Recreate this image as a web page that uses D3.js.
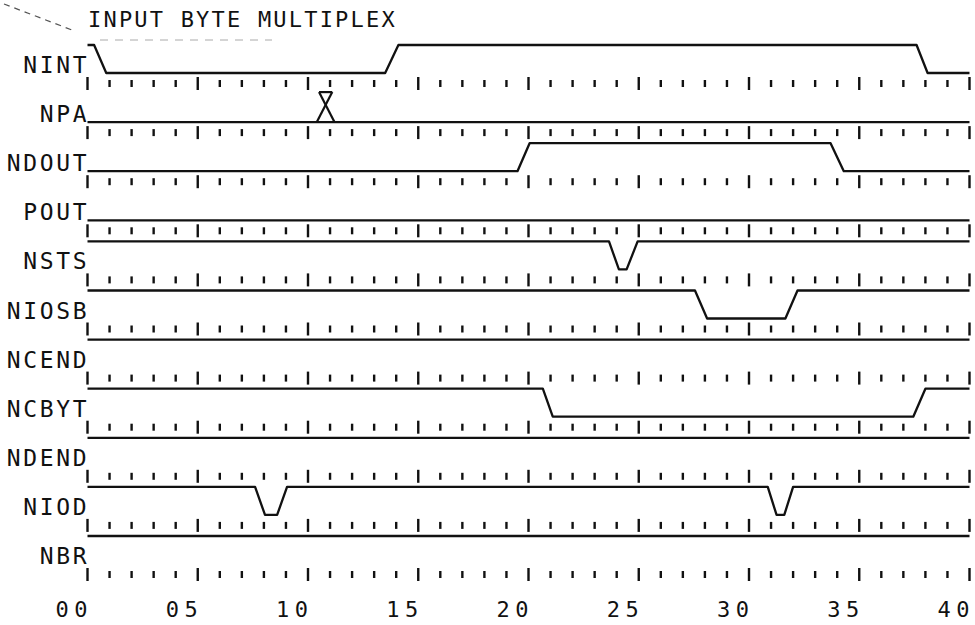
<!DOCTYPE html>
<html>
<head>
<meta charset="utf-8">
<script src="https://cdn.jsdelivr.net/npm/d3@7"></script>
<style>
  html, body { margin: 0; padding: 0; background: #fff; }
  svg { display: block; }
  text { font-family: "DejaVu Sans Mono", monospace; fill: #111; }
</style>
</head>
<body>
<svg id="chart" width="975" height="625"></svg>
<script>
// ---- data ----
const title = "INPUT BYTE MULTIPLEX";
const signals = ["NINT","NPA","NDOUT","POUT","NSTS","NIOSB","NCEND","NCBYT","NDEND","NIOD","NBR"];
// waveforms: [time, level] with level 1 = high, 0 = low
const wNINT  = [[0,1],[0.3,1],[0.85,0],[13.5,0],[14.1,1],[37.6,1],[38.1,0],[40,0]];
const wNPA   = [[0,0],[40,0]];
const wNDOUT = [[0,0],[19.5,0],[20.05,1],[33.7,1],[34.3,0],[40,0]];
const wPOUT  = [[0,0],[40,0]];
const wNSTS  = [[0,1],[23.65,1],[24.1,0],[24.45,0],[24.95,1],[40,1]];
const wNIOSB = [[0,1],[27.55,1],[28.1,0],[31.65,0],[32.2,1],[40,1]];
const wNCEND = [[0,1],[40,1]];
const wNCBYT = [[0,1],[20.65,1],[21.1,0],[37.45,0],[38.0,1],[40,1]];
const wNDEND = [[0,1],[40,1]];
const wNIOD  = [[0,1],[7.6,1],[8.05,0],[8.6,0],[9.05,1],[30.85,1],[31.25,0],[31.6,0],[32.0,1],[40,1]];
const wNBR   = [[0,1],[40,1]];
const waves = [wNINT,wNPA,wNDOUT,wPOUT,wNSTS,wNIOSB,wNCEND,wNCBYT,wNDEND,wNIOD,wNBR];
// marker (crossing) on NPA
const markerSignal = "NPA";
const markerTime = 10.8;
const tickTimes = d3.range(0, 41);
const labelTimes = [0,5,10,15,20,25,30,35,40];
const labelTexts = ["00","05","10","15","20","25","30","35","40"];

// ---- scales ----
const svg = d3.select("#chart");
const x = d3.scaleLinear().domain([0, 40]).range([87.5, 969.5]);
const yHigh = d3.scalePoint().domain(signals).range([45, 536]);
const amp = 28;
const yOf = (s, lvl) => yHigh(s) + (1 - lvl) * amp;

// ---- faint scan artifacts (top-left) ----
svg.append("line").attr("x1", 4).attr("y1", 4).attr("x2", 72).attr("y2", 30)
  .attr("stroke", "#555").attr("stroke-width", 1.2).attr("stroke-dasharray", "6,5");
svg.append("line").attr("x1", 100).attr("y1", 40).attr("x2", 272).attr("y2", 40)
  .attr("stroke", "#aaa").attr("stroke-width", 1).attr("stroke-dasharray", "8,7");

// ---- title ----
svg.append("text").attr("x", 88).attr("y", 27)
  .attr("font-size", 22).attr("letter-spacing", 2.2)
  .text(title);

// ---- rows ----
const line = d3.line();
const rows = svg.selectAll("g.row").data(signals).join("g").attr("class", "row");

rows.each(function(s, i) {
  const g = d3.select(this);
  const pts = waves[i].map(([t, v]) => [x(t), yOf(s, v)]);
  g.append("path").attr("d", line(pts))
    .attr("fill", "none").attr("stroke", "#111").attr("stroke-width", 2.3)
    .attr("stroke-linejoin", "round");

  const L = yOf(s, 0);
  g.selectAll("line.tick").data(tickTimes).join("line").attr("class", "tick")
    .attr("x1", t => x(t)).attr("x2", t => x(t))
    .attr("y1", t => L + (t % 5 === 0 ? 4 : 7))
    .attr("y2", t => L + (t % 5 === 0 ? 17 : 14))
    .attr("stroke", "#111").attr("stroke-width", 2.4);

  // label, right-aligned at the start of the trace, baseline on the low level
  const ls = 2.6;
  g.append("text").attr("x", x(0) - 1 + ls).attr("y", L)
    .attr("text-anchor", "end").attr("font-size", 23).attr("letter-spacing", ls)
    .text(s);
});

// ---- crossing marker on NPA ----
{
  const H = yOf(markerSignal, 1) - 2;
  const L = yOf(markerSignal, 0);
  const m = markerTime;
  const mk = svg.append("g").attr("stroke", "#111").attr("stroke-width", 2.2).attr("fill", "none");
  mk.append("path").attr("d", line([[x(m - 0.4), L], [x(m + 0.3), H]]));
  mk.append("path").attr("d", line([[x(m + 0.4), L], [x(m - 0.3), H]]));
  mk.append("path").attr("d", line([[x(m - 0.3), H], [x(m + 0.3), H]]));
}

// ---- time axis labels ----
const lsA = 5.5;
svg.selectAll("text.axis").data(labelTimes).join("text").attr("class", "axis")
  .attr("x", t => x(t) + lsA).attr("y", 617)
  .attr("text-anchor", "end").attr("font-size", 22).attr("letter-spacing", lsA)
  .text((t, i) => labelTexts[i]);
</script>
</body>
</html>
